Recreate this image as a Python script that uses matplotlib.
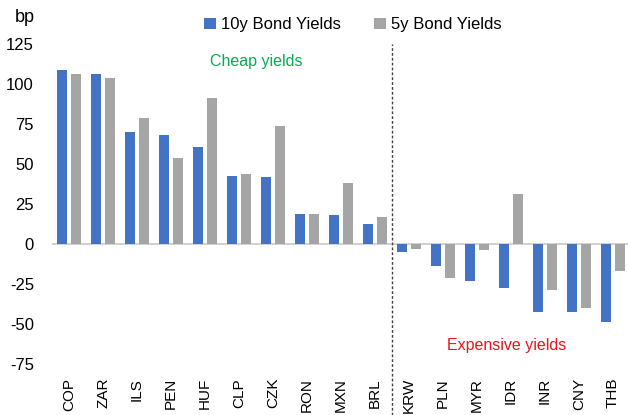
import numpy as np
import matplotlib
matplotlib.use('Agg')
import matplotlib.pyplot as plt

plt.rcParams['font.family'] = ['Liberation Sans', 'DejaVu Sans']

##### DATA #####
currencies = ['COP', 'ZAR', 'ILS', 'PEN', 'HUF', 'CLP', 'CZK', 'RON', 'MXN', 'BRL',
              'KRW', 'PLN', 'MYR', 'IDR', 'INR', 'CNY', 'THB']
yields_10y = [109, 106.5, 70, 68, 60.5, 42.5, 42, 19, 18, 12.5,
              -5, -14, -23, -27.5, -42.5, -42.5, -49]
yields_5y = [106.5, 104, 79, 54, 91, 43.5, 74, 19, 38, 17,
             -3, -21, -4, 31, -29, -40, -17]
yticks = [-75, -50, -25, 0, 25, 50, 75, 100, 125]

blue = '#4472C4'
grey = '#A5A5A5'

##### PLOT #####
fig = plt.figure(figsize=(6.28, 4.15), dpi=100)
ax = fig.add_axes([52/628, 51/415, 578/628, 320/415])

x = np.arange(len(currencies))
w = 0.31
ax.bar(x - 0.2, yields_10y, w, color=blue, label='10y Bond Yields', zorder=3)
ax.bar(x + 0.2, yields_5y, w, color=grey, label='5y Bond Yields', zorder=3)

ax.axhline(0, color='#C8C8C8', lw=1.2, zorder=2)
# divider between cheap and expensive
ax.plot([9.5, 9.5], [-0.16, 1.0], transform=ax.get_xaxis_transform(),
        color='#404040', lw=1, ls=(0, (2, 1.5)), clip_on=False)

ax.set_xlim(-0.5, 16.5)
ax.set_ylim(-75, 125)
ax.set_yticks(yticks)
ax.set_yticklabels([str(t) for t in yticks], fontsize=12)
ax.set_xticks(x)
ax.set_xticklabels(currencies, rotation=90, fontsize=11, va='top')
ax.tick_params(axis='y', length=0, pad=13)
ax.tick_params(axis='x', length=0, pad=10)
for s in ax.spines.values():
    s.set_visible(False)

ax.text(5.5, 114, 'Cheap yields', color='#00B050', fontsize=11.5, ha='center', va='center')
ax.text(12.88, -63.5, 'Expensive yields', color='#E8141E', fontsize=11.5, ha='center', va='center')
fig.text(15/628, 1 - 18/415, 'bp', fontsize=13, ha='left', va='center')

ax.legend(loc='center', bbox_to_anchor=(0.52, 1.06), ncol=2, frameon=False,
          fontsize=12, handlelength=0.7, handleheight=0.7, handletextpad=0.3,
          columnspacing=2.0)

fig.savefig('out.png', dpi=100)
